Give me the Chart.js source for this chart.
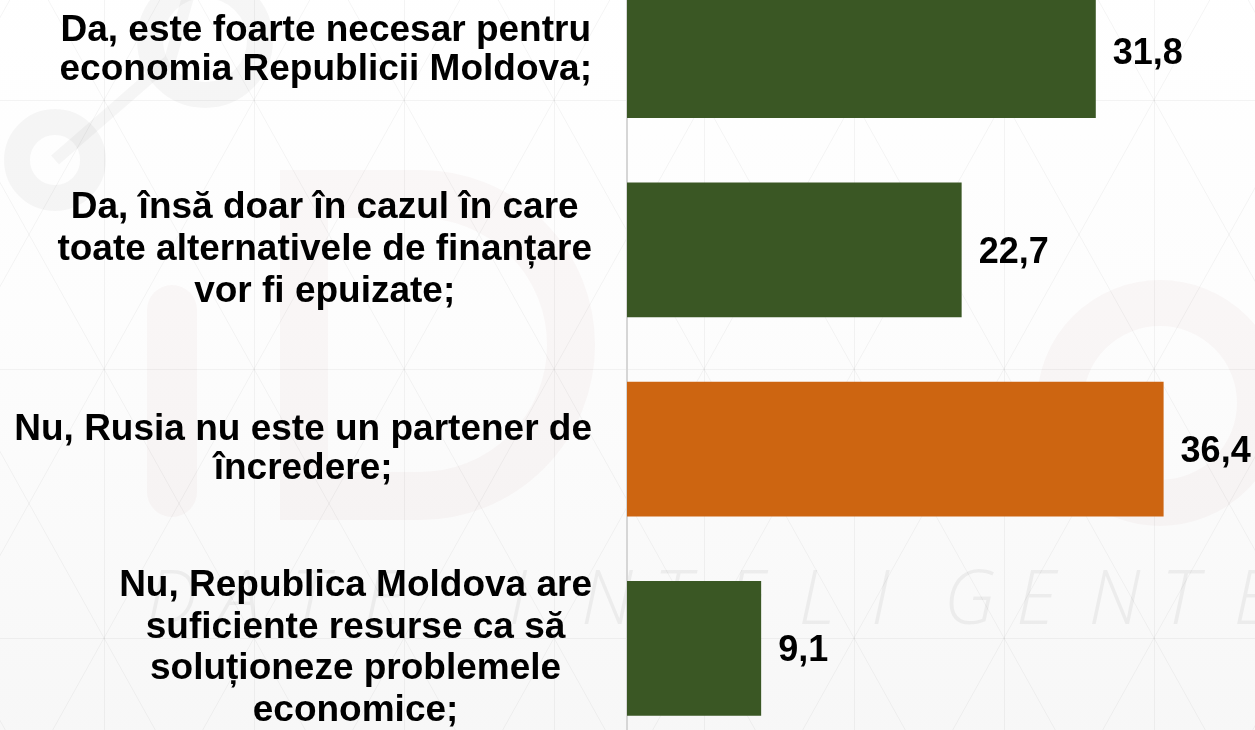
<!DOCTYPE html>
<html lang="ro">
<head>
    <meta charset="UTF-8">
    <title>Credit Rusia</title>
    <script src="https://cdn.jsdelivr.net/npm/chart.js"></script>
    <style>
        html, body { margin: 0; padding: 0; background: #fbfbfb; }
        #wrap { position: relative; width: 1255px; height: 730px; overflow: hidden; }
        #chart { position: absolute; left: 0; top: -49px; }
    </style>
</head>
<body>
    <div id="wrap">
        <canvas id="chart" width="1255" height="797"></canvas>
    </div>
    <script>
        const categories = [
            ["Da, este foarte necesar pentru", "economia Republicii Moldova;"],
            ["Da, însă doar în cazul în care", "toate alternativele de finanțare", "vor fi epuizate;"],
            ["Nu, Rusia nu este un partener de", "încredere;"],
            ["Nu, Republica Moldova are", "suficiente resurse ca să", "soluționeze problemele", "economice;"]
        ];
        const values = [31.8, 22.7, 36.4, 9.1];
        const barColors = ["#3A5724", "#3A5724", "#CD6511", "#3A5724"];

        const TOP = 49; // canvas is shifted up, page y = canvas y - TOP
        const lineGaps = [39, 42, 39, 41.7]; // line spacing of each label block

        // faint page background: lattice + logo watermark
        const backdrop = {
            id: "backdrop",
            beforeDraw(chart) {
                const ctx = chart.ctx;
                const w = chart.width, h = chart.height;
                ctx.save();
                let g = ctx.createLinearGradient(0, 0, 0, h);
                g.addColorStop(0, "#ffffff");
                g.addColorStop(0.45, "#fdfdfd");
                g.addColorStop(1, "#f7f7f7");
                ctx.fillStyle = g;
                ctx.fillRect(0, 0, w, h);

                // logo shapes
                ctx.fillStyle = "rgba(190,120,120,0.055)";
                ctx.strokeStyle = "rgba(190,120,120,0.055)";
                ctx.beginPath();
                ctx.roundRect(147, 285 + TOP, 50, 232, 25);
                ctx.fill();
                ctx.lineWidth = 48;
                ctx.beginPath();
                ctx.moveTo(304, 194 + TOP);
                ctx.lineTo(304, 496 + TOP);
                ctx.lineTo(420, 496 + TOP);
                ctx.arc(420, 345 + TOP, 151, Math.PI / 2, -Math.PI / 2, true);
                ctx.closePath();
                ctx.stroke();
                ctx.lineWidth = 46;
                ctx.beginPath();
                ctx.arc(1160, 403 + TOP, 100, 0, Math.PI * 2);
                ctx.stroke();
                ctx.strokeStyle = "rgba(0,0,0,0.035)";
                ctx.lineWidth = 12;
                ctx.beginPath();
                ctx.moveTo(55, 160 + TOP); ctx.lineTo(170, 60 + TOP);
                ctx.moveTo(170, 60 + TOP); ctx.lineTo(190, -10 + TOP);
                ctx.stroke();
                ctx.lineWidth = 26;
                ctx.beginPath();
                ctx.arc(55, 160 + TOP, 38, 0, Math.PI * 2);
                ctx.stroke();
                ctx.beginPath();
                ctx.arc(205, 40 + TOP, 55, 0, Math.PI * 2);
                ctx.stroke();

                // lattice
                ctx.strokeStyle = "rgba(0,0,0,0.045)";
                ctx.lineWidth = 1;
                const dx = 150, dy = 269, x0 = 104, y0 = 100;
                ctx.beginPath();
                for (let x = x0 - dx; x < w + dx; x += dx) {
                    ctx.moveTo(x + 0.5, 0); ctx.lineTo(x + 0.5, h);
                }
                for (let y = y0 - dy; y < 730 + dy; y += dy) {
                    ctx.moveTo(0, y + TOP + 0.5); ctx.lineTo(w, y + TOP + 0.5);
                }
                const s = dy / dx;
                for (let k = -12; k < 20; k++) {
                    const xa = x0 + k * dx;
                    const yt = -TOP - 10, yb = 800;
                    ctx.moveTo(xa + (yt - y0) / s, yt + TOP); ctx.lineTo(xa + (yb - y0) / s, yb + TOP);
                    ctx.moveTo(xa - (yt - y0) / s, yt + TOP); ctx.lineTo(xa - (yb - y0) / s, yb + TOP);
                }
                ctx.stroke();

                // watermark text
                ctx.fillStyle = "rgba(0,0,0,0.05)";
                ctx.font = "italic 300 76px 'Open Sans', 'DejaVu Sans', sans-serif";
                ctx.textBaseline = "alphabetic";
                const word = "DATE INTELIGENTE";
                for (let i = 0; i < word.length; i++) {
                    ctx.fillText(word[i], 146 + i * 72.5, 624 + TOP);
                }
                ctx.restore();
            }
        };

        // category labels: each block right-aligned, lines centred inside the block
        const blockLabels = {
            id: "blockLabels",
            afterDraw(chart) {
                const ctx = chart.ctx;
                const yScale = chart.scales.y;
                const right = chart.chartArea.left - 35;
                const fs = 37;
                ctx.save();
                ctx.font = "bold " + fs + "px 'Liberation Sans', Arial, sans-serif";
                ctx.fillStyle = "#000";
                ctx.textAlign = "center";
                ctx.textBaseline = "alphabetic";
                categories.forEach((lines, i) => {
                    const cy = yScale.getPixelForTick(i) - 3;
                    const gap = lineGaps[i];
                    const maxW = Math.max(...lines.map(l => ctx.measureText(l).width));
                    const cx = right - maxW / 2;
                    lines.forEach((l, j) => {
                        ctx.fillText(l, cx, cy + (j - (lines.length - 1) / 2) * gap + fs * 0.358);
                    });
                });
                ctx.restore();
            }
        };

        const valueLabels = {
            id: "valueLabels",
            afterDatasetsDraw(chart) {
                const ctx = chart.ctx;
                const meta = chart.getDatasetMeta(0);
                ctx.save();
                ctx.font = "bold 36px 'Liberation Sans', Arial, sans-serif";
                ctx.fillStyle = "#000";
                ctx.textAlign = "left";
                ctx.textBaseline = "alphabetic";
                meta.data.forEach((bar, i) => {
                    ctx.fillText(values[i].toFixed(1).replace(".", ","), bar.x + 17, bar.y + 12.9);
                });
                ctx.restore();
            }
        };

        new Chart(document.getElementById("chart"), {
            type: "bar",
            data: {
                labels: categories,
                datasets: [{
                    data: values,
                    backgroundColor: barColors,
                    borderWidth: 0,
                    barPercentage: 0.677,
                    categoryPercentage: 1
                }]
            },
            options: {
                indexAxis: "y",
                responsive: false,
                animation: false,
                devicePixelRatio: 1,
                layout: { padding: 0 },
                plugins: {
                    legend: { display: false },
                    tooltip: { enabled: false }
                },
                scales: {
                    x: {
                        display: false,
                        min: 0,
                        max: 42.6
                    },
                    y: {
                        ticks: { display: false },
                        grid: { display: false },
                        border: { display: true, color: "#d6d6d6", width: 2 },
                        afterFit(scale) { scale.width = 627; }
                    }
                }
            },
            plugins: [backdrop, blockLabels, valueLabels]
        });
    </script>
</body>
</html>
